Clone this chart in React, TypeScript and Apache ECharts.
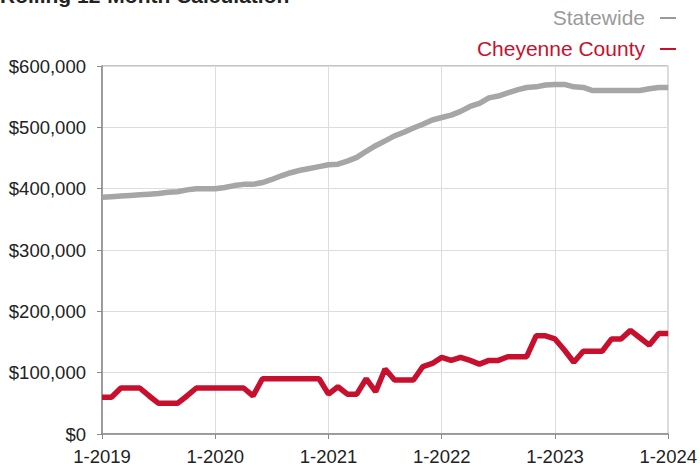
import React, { useEffect, useRef } from "react";
import * as echarts from "echarts";

const years = [2019, 2020, 2021, 2022, 2023, 2024];
const yTicks = [0, 100000, 200000, 300000, 400000, 500000, 600000];

// Monthly values, 1-2019 through 1-2024 (thousands of dollars)
const statewide = [
  386, 387, 388, 389, 390, 391, 392, 394, 395, 398, 400, 400,
  400, 402, 405, 407, 407, 410, 415, 421, 426, 430, 433, 436,
  439, 440, 445, 451, 461, 470, 478, 486, 492, 499, 505, 512,
  516, 520, 526, 534, 539, 548, 551, 556, 561, 565, 566, 569,
  570, 570, 566, 565, 560, 560, 560, 560, 560, 560, 563, 565,
  565,
];
const cheyenne = [
  60, 60, 75, 75, 75, 62, 50, 50, 50, 62, 75, 75,
  75, 75, 75, 75, 62, 90, 90, 90, 90, 90, 90, 90,
  65, 77, 65, 65, 90, 69, 106, 88, 88, 88, 110, 115,
  125, 120, 125, 120, 114, 120, 120, 126, 126, 126, 160, 160,
  155, 137, 117, 135, 135, 135, 155, 155, 169, 157, 145, 164,
  164,
];

const months: string[] = [];
years.forEach((y) => {
  for (let m = 1; m <= 12; m++) {
    if (y === 2024 && m > 1) break;
    months.push(`${m}-${y}`);
  }
});

const GRAY = "#a6a6a6";
const RED = "#c8102e";
const FONT = "'Liberation Sans', Arial, Helvetica, sans-serif";

export default function App() {
  const ref = useRef<HTMLDivElement>(null);
  useEffect(() => {
    document.body.style.margin = "0";
    if (!ref.current) return;
    const chart = echarts.init(ref.current, undefined, { renderer: "svg" });
    const yearTick = (i: number) => i % 12 === 0;
    chart.setOption({
      animation: false,
      textStyle: { fontFamily: FONT },
      grid: {
        left: 102,
        right: 28,
        top: 66,
        bottom: 30,
        show: true,
        borderColor: "#8a8a8a",
        borderWidth: 1,
      },
      graphic: [
        {
          type: "text",
          x: 0,
          y: 6,
          style: {
            text: "Rolling 12-Month Calculation",
            font: `bold 21px ${FONT}`,
            fill: "#222",
            verticalAlign: "bottom",
          },
        },
        {
          type: "text",
          x: 645,
          y: 17,
          style: {
            text: "Statewide",
            font: `21px ${FONT}`,
            fill: "#9a9a9a",
            align: "right",
            verticalAlign: "middle",
          },
        },
        {
          type: "text",
          x: 645,
          y: 48,
          style: {
            text: "Cheyenne County",
            font: `21px ${FONT}`,
            fill: RED,
            align: "right",
            verticalAlign: "middle",
          },
        },
        {
          type: "line",
          shape: { x1: 660, y1: 18, x2: 676, y2: 18 },
          style: { stroke: "#9a9a9a", lineWidth: 2 },
        },
        {
          type: "line",
          shape: { x1: 660, y1: 49, x2: 676, y2: 49 },
          style: { stroke: RED, lineWidth: 2 },
        },
      ],
      xAxis: {
        type: "category",
        data: months,
        boundaryGap: false,
        axisLine: { lineStyle: { color: "#8a8a8a", width: 1.5 } },
        axisTick: {
          interval: (i: number) => yearTick(i),
          length: 5,
          lineStyle: { color: "#8a8a8a" },
        },
        axisLabel: {
          interval: (i: number) => yearTick(i),
          color: "#222",
          fontSize: 18.5,
          margin: 13,
          fontFamily: FONT,
        },
        splitLine: {
          show: true,
          interval: (i: number) => yearTick(i),
          lineStyle: { color: "#dddddd", width: 1 },
        },
      },
      yAxis: {
        type: "value",
        min: yTicks[0],
        max: yTicks[yTicks.length - 1],
        interval: 100000,
        axisLine: { show: true, lineStyle: { color: "#8a8a8a", width: 1.5 } },
        axisTick: { show: true, length: 5, lineStyle: { color: "#8a8a8a" } },
        axisLabel: {
          color: "#222",
          fontSize: 18.5,
          margin: 16,
          fontFamily: FONT,
          formatter: (v: number) => "$" + v.toLocaleString("en-US"),
        },
        splitLine: { lineStyle: { color: "#dddddd", width: 1 } },
      },
      series: [
        {
          name: "Statewide",
          type: "line",
          data: statewide.map((v) => v * 1000),
          showSymbol: false,
          lineStyle: { color: GRAY, width: 5.5 },
          itemStyle: { color: GRAY },
        },
        {
          name: "Cheyenne County",
          type: "line",
          data: cheyenne.map((v) => v * 1000),
          showSymbol: false,
          lineStyle: { color: RED, width: 5.5 },
          itemStyle: { color: RED },
        },
      ],
    });
    return () => chart.dispose();
  }, []);
  return <div ref={ref} style={{ width: 700, height: 466 }} />;
}
